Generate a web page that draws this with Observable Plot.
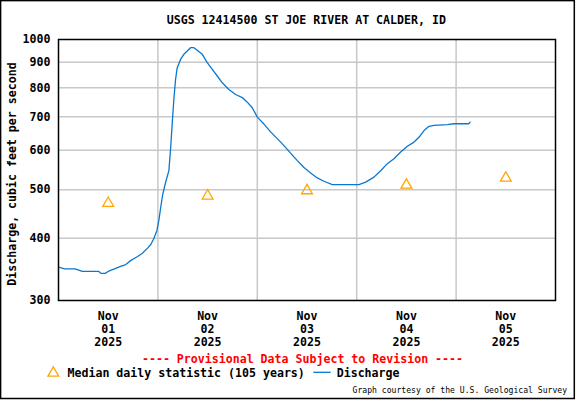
<!DOCTYPE html>
<html>
<head>
<meta charset="utf-8">
<script src="https://cdn.jsdelivr.net/npm/d3@7"></script>
<script src="https://cdn.jsdelivr.net/npm/@observablehq/plot@0.6"></script>
<style>
  html, body { margin: 0; padding: 0; background: white; }
  #chart { width: 576px; height: 400px; position: relative; }
</style>
</head>
<body>
<div id="chart"></div>
<script>
// ---- Data ----
const dischargeTimes = [
  "2025-11-01T00:00","2025-11-01T01:30","2025-11-01T04:00","2025-11-01T05:45","2025-11-01T09:45",
  "2025-11-01T10:15","2025-11-01T11:15","2025-11-01T12:00","2025-11-01T13:30","2025-11-01T15:00",
  "2025-11-01T16:15","2025-11-01T17:30","2025-11-01T19:00","2025-11-01T20:15","2025-11-01T21:30",
  "2025-11-01T22:15","2025-11-01T23:00","2025-11-01T23:45","2025-11-02T00:14","2025-11-02T00:38",
  "2025-11-02T01:07","2025-11-02T01:51","2025-11-02T02:39","2025-11-02T03:04","2025-11-02T03:28",
  "2025-11-02T03:51","2025-11-02T04:16","2025-11-02T04:40","2025-11-02T05:28","2025-11-02T06:16",
  "2025-11-02T07:05","2025-11-02T07:53","2025-11-02T08:41","2025-11-02T09:30","2025-11-02T10:43",
  "2025-11-02T11:55","2025-11-02T13:08","2025-11-02T14:20","2025-11-02T15:33","2025-11-02T17:08",
  "2025-11-02T18:46","2025-11-02T20:23","2025-11-02T21:35","2025-11-02T22:47","2025-11-03T00:00",
  "2025-11-03T01:36","2025-11-03T03:13","2025-11-03T04:50","2025-11-03T06:26","2025-11-03T08:02",
  "2025-11-03T09:40","2025-11-03T11:16","2025-11-03T12:53","2025-11-03T14:29","2025-11-03T16:05",
  "2025-11-03T18:07","2025-11-03T21:44","2025-11-04T00:32","2025-11-04T02:10","2025-11-04T04:10",
  "2025-11-04T05:47","2025-11-04T07:24","2025-11-04T09:00","2025-11-04T10:37","2025-11-04T12:14",
  "2025-11-04T13:50","2025-11-04T15:02","2025-11-04T16:15","2025-11-04T17:28","2025-11-04T18:40",
  "2025-11-04T21:54","2025-11-04T23:30","2025-11-05T03:06","2025-11-05T03:22"
];
const dischargeValues = [
  350,347,347,343,343,
  340,340,343,347,351,
  354,361,367,373,382,
  388,399,414,434,458,
  487,517,546,605,681,
  758,832,878,912,934,
  948,963,963,952,934,
  899,871,845,819,794,
  776,765,749,730,699,
  677,653,633,613,592,
  572,554,540,528,520,
  512,512,512,518,530,
  546,564,577,595,611,
  623,637,657,670,673,
  675,678,678,683
];
const medianTimes = ["2025-11-01T12:00","2025-11-02T12:00","2025-11-03T12:00","2025-11-04T12:00","2025-11-05T12:00"];
const medianValues = [470, 486, 498, 511, 528];
const dayBoundaries = ["2025-11-02T00:00","2025-11-03T00:00","2025-11-04T00:00","2025-11-05T00:00"];
const xDomain = ["2025-11-01T00:00","2025-11-06T00:00"];
const yTicks = [300,400,500,600,700,800,900,1000];
const yGrid = [400,500,600,700,800,900];

const parse = s => new Date(s + ":00Z");
const discharge = dischargeTimes.map((t, i) => ({t: parse(t), v: dischargeValues[i]}));
const medians = medianTimes.map((t, i) => ({t: parse(t), v: medianValues[i]}));

const FONT = "'DejaVu Sans Mono', monospace";
const BLUE = "#0a78d0";
const ORANGE = "#ffa500";

const svg = Plot.plot({
  width: 576,
  height: 400,
  marginTop: 39,
  marginLeft: 58,
  marginRight: 21,
  marginBottom: 100,
  style: {fontFamily: FONT, fontSize: "11.6px", fontWeight: "bold", color: "black", background: "white"},
  x: {type: "utc", domain: xDomain.map(parse), label: null},
  y: {type: "log", domain: [300, 1000], label: null},
  marks: [
    Plot.gridY(yGrid, {stroke: "#c8c8c8", strokeOpacity: 1, strokeWidth: 1.5}),
    Plot.gridX(dayBoundaries.map(parse), {stroke: "#c8c8c8", strokeOpacity: 1, strokeWidth: 1.5}),
    Plot.line(discharge, {x: "t", y: "v", stroke: BLUE, strokeWidth: 1.3}),
    Plot.dot(medians, {x: "t", y: "v", symbol: "triangle", r: 4, stroke: ORANGE, fill: "none", strokeWidth: 1.3}),
    Plot.frame({stroke: "black", strokeWidth: 1.5}),
    Plot.axisY(yTicks, {tickSize: 0, tickPadding: 8, tickFormat: d => String(d), label: null}),
    Plot.axisX(medianTimes.map(parse), {
      tickSize: 0, tickPadding: 10, label: null, lineHeight: 1.12,
      tickFormat: d => `Nov\n${String(d.getUTCDate()).padStart(2, "0")}\n${d.getUTCFullYear()}`
    })
  ]
});

const s = d3.select(svg);
const txt = (x, y, str, anchor, size, weight, fill) =>
  s.append("text").attr("x", x).attr("y", y).attr("text-anchor", anchor).attr("fill", fill || "black")
    .style("font-family", FONT).style("font-size", size).style("font-weight", weight).text(str);

// title
txt(306.3, 24.2, "USGS 12414500 ST JOE RIVER AT CALDER, ID", "middle", "11.6px", "bold");
// y label
s.append("text").attr("transform", "translate(15.8,174) rotate(-90)").attr("text-anchor", "middle")
  .attr("fill", "black")
  .style("font-family", FONT).style("font-size", "11.6px").style("font-weight", "bold")
  .text("Discharge, cubic feet per second");
// provisional
txt(302.5, 363.2, "---- Provisional Data Subject to Revision ----", "middle", "11.6px", "bold", "#ff0000");
// legend
s.append("path").attr("transform", "translate(53.3,373)")
  .attr("d", d3.symbol(d3.symbolTriangle, Math.PI * 4 * 4)())
  .attr("fill", "none").attr("stroke", ORANGE).attr("stroke-width", 1.3);
txt(67.5, 376.5, "Median daily statistic (105 years)", "start", "11.6px", "bold");
s.append("line").attr("x1", 313.3).attr("x2", 330.7).attr("y1", 372.3).attr("y2", 372.3)
  .attr("stroke", BLUE).attr("stroke-width", 1.3);
txt(336.7, 376.5, "Discharge", "start", "11.6px", "bold");
// caption
txt(567, 393, "Graph courtesy of the U.S. Geological Survey", "end", "8.1px", "normal");
// outer border
s.append("rect").attr("x", 0.6).attr("y", 0.6).attr("width", 573.7).attr("height", 397.9)
  .attr("fill", "none").attr("stroke", "black").attr("stroke-width", 1.5);

document.getElementById("chart").appendChild(svg);
</script>
</body>
</html>
